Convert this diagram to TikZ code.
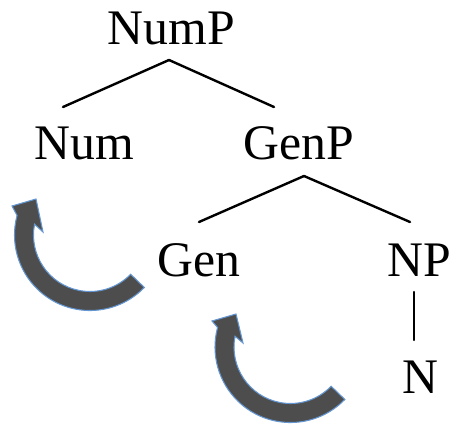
\documentclass[tikz,border=0pt]{standalone}
\usepackage{fontspec}
\setmainfont{Liberation Serif}
\usepackage{xcolor}

\tikzset{
  tree label/.style={anchor=base, inner sep=0.75pt, font=\fontsize{37.3}{45}\selectfont},
  branch/.style={line width=1.8pt, line cap=round},
  turn arrow/.style={draw={rgb, 255:red, 100; green, 150; blue, 210}, line width=0.8pt,
    fill={rgb, 255:red, 77; green, 77; blue, 77}, line join=miter}
}

\begin{document}
\begin{tikzpicture}[x=0.75pt,y=0.75pt,yscale=-1,xscale=1]
\useasboundingbox (0,0) rectangle (453,431);

% Text Node
\draw (171.5,45) node [tree label] (nump) {NumP};
% Text Node
\draw (84.5,160) node [tree label] (num) {Num};
% Text Node
\draw (299,160) node [tree label] (genp) {GenP};
% Text Node
\draw (199,276.5) node [tree label] (gen) {Gen};
% Text Node
\draw (419,276.5) node [tree label] (np) {NP};
% Text Node
\draw (420,393) node [tree label] (n) {N};

% branch points
\coordinate (nump-root) at (169,60);
\coordinate (num-top) at (63,107);
\coordinate (genp-top) at (274,107);
\coordinate (genp-root) at (304,176);
\coordinate (gen-top) at (199,222);
\coordinate (np-top) at (410,222);
\coordinate (np-root) at (414,292);
\coordinate (n-top) at (414,340);

%Straight Lines
\draw [branch] (nump-root) -- (num-top);
\draw [branch] (nump-root) -- (genp-top);
%Straight Lines
\draw [branch] (genp-root) -- (gen-top);
\draw [branch] (genp-root) -- (np-top);
%Straight Lines
\draw [branch] (np-root) -- (n-top);

%Shape: Curved Arrow (Num)
\draw [turn arrow, shift={(90,235)}] (44:75.5) arc [start angle=44, end angle=195, radius=75.5]
  -- (-78,-29) -- (-54,-36) -- (-47,-3) -- (191:56.5) arc [start angle=191, end angle=44, radius=56.5] -- cycle ;
%Shape: Curved Arrow (Gen)
\draw [turn arrow, shift={(290.5,347)}] (44:75.5) arc [start angle=44, end angle=195, radius=75.5]
  -- (-78.5,-26) -- (-54.5,-33) -- (-47.5,-4) -- (191:56.5) arc [start angle=191, end angle=44, radius=56.5] -- cycle ;

\end{tikzpicture}
\end{document}
